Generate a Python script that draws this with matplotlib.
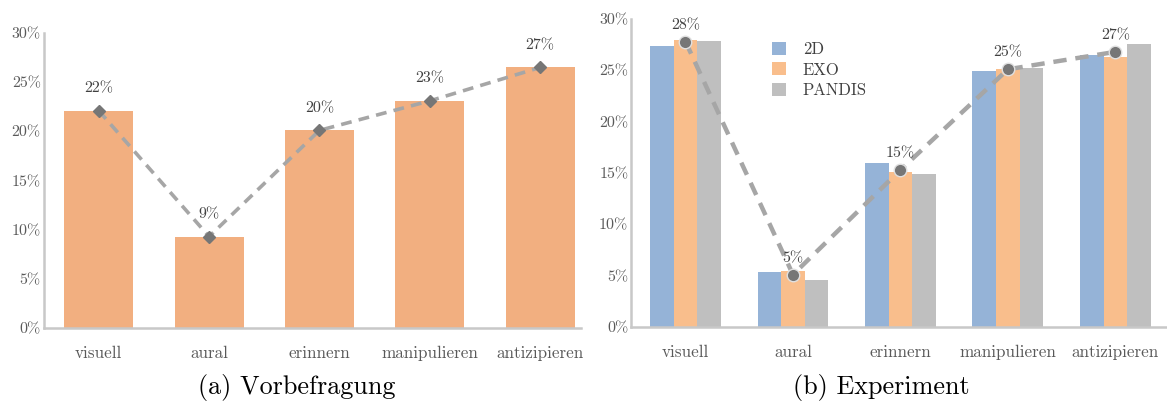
import matplotlib.pyplot as plt
import numpy as np

# Data
categories = ["visuell", "aural", "erinnern", "manipulieren", "antizipieren"]

# (a) Vorbefragung
pre_values = [22.1, 9.3, 20.1, 23.1, 26.5]
pre_labels = ["22%", "9%", "20%", "23%", "27%"]

# (b) Experiment
exp_2d = [27.4, 5.4, 16.0, 24.9, 26.5]
exp_exo = [28.0, 5.5, 15.1, 25.1, 26.3]
exp_pandis = [27.9, 4.6, 14.9, 25.2, 27.6]
exp_mean = [27.8, 5.1, 15.3, 25.1, 26.8]
exp_labels = ["28%", "5%", "15%", "25%", "27%"]

yticks = [0, 5, 10, 15, 20, 25, 30]
ytick_labels = ["0%", "5%", "10%", "15%", "20%", "25%", "30%"]

# Style
plt.rcParams['font.family'] = ['cmr10', 'DejaVu Serif']
plt.rcParams['axes.formatter.use_mathtext'] = True

AXIS_COLOR = '#c8c8c8'
TICK_COLOR = '#595959'
LABEL_COLOR = '#404040'
LINE_COLOR = '#a6a6a6'
MARKER_COLOR = '#767676'


def style_axes(ax):
    for side in ['top', 'right']:
        ax.spines[side].set_visible(False)
    for side in ['left', 'bottom']:
        ax.spines[side].set_color(AXIS_COLOR)
        ax.spines[side].set_linewidth(1.8)
    ax.set_ylim(0, 30)
    ax.set_yticks(yticks)
    ax.set_yticklabels(ytick_labels)
    ax.tick_params(length=0, colors=TICK_COLOR, labelsize=11.5, pad=2)
    ax.tick_params(axis='x', pad=13, labelsize=12.3)
    ax.set_xticks(np.arange(len(categories)))
    ax.set_xticklabels(categories)


fig = plt.figure(figsize=(11.67, 4.05), dpi=100)

# Left panel
ax1 = fig.add_axes([0.0373, 0.190, 0.4606, 0.7285])
x = np.arange(len(categories))
ax1.bar(x, pre_values, width=0.625, color='#f2af80', zorder=1)
ax1.plot(x, pre_values, linestyle='--', color=LINE_COLOR, linewidth=2.6,
         dashes=(3, 2), zorder=2)
ax1.plot(x, pre_values, linestyle='none', marker='D', markersize=6,
         color=MARKER_COLOR, zorder=3)
for xi, v, lab in zip(x, pre_values, pre_labels):
    ax1.annotate(lab, (xi, v), xytext=(0, 11), textcoords='offset points',
                 ha='center', va='bottom', fontsize=11.5, color=LABEL_COLOR)
ax1.set_xlim(-0.50, 4.37)
style_axes(ax1)

# Right panel
ax2 = fig.add_axes([0.5407, 0.1926, 0.4593, 0.7605])
w = 0.22
ax2.bar(x - w, exp_2d, width=w, color='#95b3d7', label='2D', zorder=1)
ax2.bar(x, exp_exo, width=w, color='#f9be8c', label='EXO', zorder=1)
ax2.bar(x + w, exp_pandis, width=w, color='#bfbfbf', label='PANDIS', zorder=1)
ax2.plot(x, exp_mean, linestyle='--', color=LINE_COLOR, linewidth=3.2,
         dashes=(3, 2), zorder=2)
ax2.plot(x, exp_mean, linestyle='none', marker='o', markersize=9,
         color=MARKER_COLOR, markeredgecolor='#e0e0e0', markeredgewidth=1,
         zorder=3)
for xi, v, lab in zip(x, exp_mean, exp_labels):
    ax2.annotate(lab, (xi, v), xytext=(0, 7), textcoords='offset points',
                 ha='center', va='bottom', fontsize=11.5, color=LABEL_COLOR)
ax2.set_xlim(-0.507, 4.48)
style_axes(ax2)
ax2.legend(loc='upper left', bbox_to_anchor=(0.235, 0.975), frameon=False,
           fontsize=12, handlelength=0.85, handleheight=0.85,
           handletextpad=1.0, labelspacing=0.3, labelcolor=LABEL_COLOR)

# Captions
fig.text(0.254, 0.043, "(a) Vorbefragung", ha='center', va='center',
         fontsize=18.8, color='black')
fig.text(0.755, 0.043, "(b) Experiment", ha='center', va='center',
         fontsize=18.8, color='black')

fig.savefig('out.png', dpi=100)
